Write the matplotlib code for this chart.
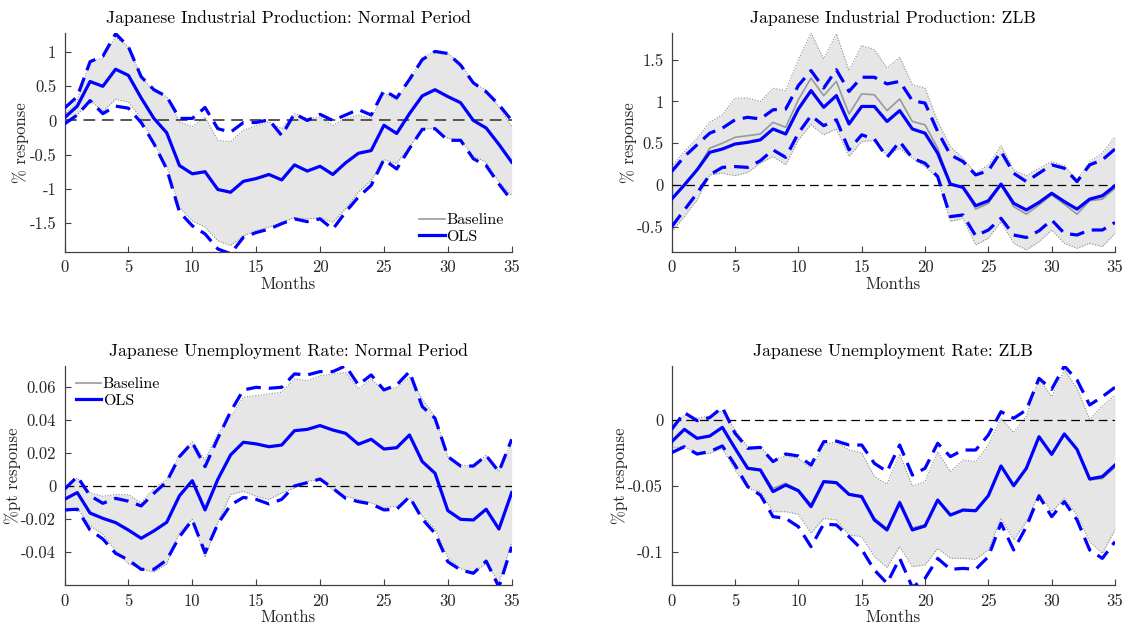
import matplotlib
matplotlib.use("Agg")
import matplotlib.pyplot as plt
import numpy as np

plt.rcParams['font.family'] = ['cmr10', 'DejaVu Serif']
plt.rcParams['mathtext.fontset'] = 'cm'
plt.rcParams['axes.unicode_minus'] = False
plt.rcParams['axes.formatter.use_mathtext'] = False

months = np.arange(36)

# ---------------- Panel 1: IP Normal ----------------
ip_n_ols = [0.04, 0.21, 0.57, 0.50, 0.75, 0.66, 0.33, 0.03, -0.18, -0.66,
            -0.78, -0.75, -1.01, -1.05, -0.89, -0.85, -0.79, -0.87, -0.65, -0.74,
            -0.67, -0.79, -0.62, -0.48, -0.44, -0.07, -0.19, 0.10, 0.36, 0.45,
            0.35, 0.26, 0.00, -0.11, -0.35, -0.61]
ip_n_base = [0.04, 0.21, 0.57, 0.50, 0.75, 0.66, 0.33, 0.03, -0.18, -0.66,
             -0.78, -0.75, -1.01, -1.05, -0.89, -0.85, -0.79, -0.87, -0.65, -0.74,
             -0.67, -0.79, -0.62, -0.48, -0.44, -0.07, -0.19, 0.10, 0.36, 0.45,
             0.35, 0.26, 0.00, -0.11, -0.35, -0.61]
ip_n_ols_hi = [0.18, 0.35, 0.86, 0.94, 1.27, 1.08, 0.64, 0.45, 0.35, 0.03,
               0.03, 0.19, -0.12, -0.17, -0.03, -0.03, 0.01, -0.22, 0.10, 0.00,
               0.09, 0.00, 0.08, 0.16, 0.08, 0.44, 0.33, 0.60, 0.89, 1.01,
               0.98, 0.81, 0.55, 0.42, 0.23, 0.00]
ip_n_ols_lo = [-0.05, 0.08, 0.29, 0.10, 0.21, 0.18, -0.03, -0.34, -0.71, -1.34,
               -1.54, -1.66, -1.88, -1.95, -1.71, -1.64, -1.59, -1.51, -1.44, -1.48,
               -1.44, -1.59, -1.34, -1.12, -0.95, -0.57, -0.71, -0.41, -0.13, -0.12,
               -0.29, -0.29, -0.56, -0.66, -0.93, -1.17]
ip_n_base_hi = [0.08, 0.30, 0.86, 0.91, 1.22, 1.08, 0.64, 0.42, 0.35, -0.02,
                -0.09, 0.05, -0.29, -0.31, -0.14, -0.08, -0.02, -0.12, 0.10, 0.03,
                0.05, -0.07, 0.03, 0.08, 0.03, 0.40, 0.30, 0.59, 0.91, 1.02,
                0.98, 0.84, 0.54, 0.45, 0.20, -0.09]
ip_n_base_lo = [-0.04, 0.08, 0.30, 0.13, 0.31, 0.27, 0.03, -0.34, -0.66, -1.27,
                -1.47, -1.56, -1.76, -1.83, -1.69, -1.61, -1.56, -1.49, -1.42, -1.44,
                -1.42, -1.49, -1.29, -1.05, -0.88, -0.57, -0.63, -0.39, -0.12, -0.12,
                -0.26, -0.29, -0.52, -0.61, -0.90, -1.10]

# ---------------- Panel 2: IP ZLB ----------------
ip_z_ols = [-0.17, 0.00, 0.18, 0.39, 0.43, 0.49, 0.51, 0.54, 0.67, 0.61,
            0.91, 1.13, 0.93, 1.07, 0.73, 0.94, 0.94, 0.76, 0.89, 0.67,
            0.62, 0.38, 0.01, -0.03, -0.25, -0.19, 0.01, -0.22, -0.30, -0.21,
            -0.10, -0.20, -0.29, -0.17, -0.13, -0.01]
ip_z_base = [-0.17, 0.00, 0.18, 0.44, 0.50, 0.57, 0.59, 0.61, 0.75, 0.69,
             1.02, 1.28, 1.07, 1.24, 0.85, 1.09, 1.08, 0.89, 1.03, 0.76,
             0.72, 0.44, 0.01, -0.03, -0.29, -0.22, 0.00, -0.26, -0.35, -0.24,
             -0.12, -0.23, -0.35, -0.19, -0.17, -0.04]
ip_z_ols_hi = [0.16, 0.34, 0.48, 0.62, 0.68, 0.78, 0.81, 0.79, 0.90, 0.91,
               1.19, 1.37, 1.16, 1.38, 1.12, 1.29, 1.29, 1.21, 1.24, 1.01,
               0.98, 0.64, 0.36, 0.28, 0.12, 0.17, 0.40, 0.14, 0.04, 0.14,
               0.24, 0.20, 0.04, 0.24, 0.30, 0.43]
ip_z_ols_lo = [-0.50, -0.30, -0.10, 0.12, 0.21, 0.22, 0.21, 0.29, 0.42, 0.33,
               0.62, 0.83, 0.71, 0.78, 0.42, 0.60, 0.55, 0.33, 0.52, 0.32,
               0.26, 0.10, -0.38, -0.36, -0.61, -0.54, -0.40, -0.60, -0.63, -0.55,
               -0.42, -0.58, -0.60, -0.54, -0.54, -0.45]
ip_z_base_hi = [0.22, 0.40, 0.56, 0.75, 0.84, 1.04, 1.04, 1.00, 1.16, 1.13,
                1.50, 1.82, 1.51, 1.81, 1.37, 1.67, 1.62, 1.40, 1.53, 1.20,
                1.16, 0.76, 0.46, 0.32, 0.14, 0.24, 0.47, 0.18, 0.11, 0.20,
                0.28, 0.23, 0.06, 0.28, 0.38, 0.58]
ip_z_base_lo = [-0.56, -0.38, -0.18, 0.12, 0.14, 0.11, 0.15, 0.26, 0.34, 0.24,
                0.54, 0.72, 0.60, 0.67, 0.34, 0.52, 0.53, 0.35, 0.44, 0.32,
                0.22, 0.08, -0.44, -0.40, -0.72, -0.64, -0.44, -0.70, -0.78, -0.68,
                -0.54, -0.70, -0.76, -0.70, -0.74, -0.58]

# ---------------- Panel 3: Unemployment Normal ----------------
ur_n_ols = [-0.0079, -0.0038, -0.0162, -0.0194, -0.0220, -0.0265, -0.0315, -0.0270, -0.0218, -0.0057,
            0.0034, -0.0143, 0.0042, 0.0190, 0.0267, 0.0257, 0.0240, 0.0250, 0.0337, 0.0345,
            0.0368, 0.0341, 0.0321, 0.0255, 0.0285, 0.0226, 0.0234, 0.0311, 0.0150, 0.0079,
            -0.0147, -0.0200, -0.0204, -0.0139, -0.0259, -0.0038]
ur_n_base = [-0.0079, -0.0038, -0.0162, -0.0194, -0.0220, -0.0265, -0.0315, -0.0270, -0.0218, -0.0057,
             0.0034, -0.0143, 0.0042, 0.0190, 0.0267, 0.0257, 0.0240, 0.0250, 0.0337, 0.0345,
             0.0368, 0.0341, 0.0321, 0.0255, 0.0285, 0.0226, 0.0234, 0.0311, 0.0150, 0.0079,
             -0.0147, -0.0200, -0.0204, -0.0139, -0.0259, -0.0038]
ur_n_ols_hi = [-0.0018, 0.0059, -0.0057, -0.0103, -0.0073, -0.0090, -0.0119, -0.0042, 0.0028, 0.0180,
               0.0265, 0.0119, 0.0291, 0.0453, 0.0584, 0.0600, 0.0594, 0.0600, 0.0681, 0.0675,
               0.0695, 0.0695, 0.0730, 0.0614, 0.0675, 0.0584, 0.0614, 0.0695, 0.0483, 0.0412,
               0.0180, 0.0123, 0.0123, 0.0186, 0.0089, 0.0285]
ur_n_ols_lo = [-0.0143, -0.0139, -0.0265, -0.0319, -0.0406, -0.0446, -0.0503, -0.0503, -0.0446, -0.0305,
               -0.0204, -0.0402, -0.0228, -0.0113, -0.0067, -0.0079, -0.0107, -0.0079, 0.0002, 0.0022,
               0.0044, -0.0012, -0.0073, -0.0093, -0.0107, -0.0143, -0.0139, -0.0063, -0.0198, -0.0285,
               -0.0457, -0.0507, -0.0527, -0.0453, -0.0610, -0.0366]
ur_n_base_hi = [0.0000, 0.0050, -0.0040, -0.0060, -0.0050, -0.0050, -0.0100, -0.0010, 0.0040, 0.0190,
                0.0270, 0.0160, 0.0320, 0.0420, 0.0540, 0.0550, 0.0560, 0.0570, 0.0650, 0.0640,
                0.0670, 0.0680, 0.0690, 0.0590, 0.0650, 0.0580, 0.0600, 0.0660, 0.0530, 0.0420,
                0.0180, 0.0130, 0.0120, 0.0190, 0.0090, 0.0270]
ur_n_base_lo = [-0.0154, -0.0133, -0.0240, -0.0290, -0.0390, -0.0470, -0.0500, -0.0520, -0.0470, -0.0280,
                -0.0200, -0.0430, -0.0220, -0.0050, -0.0030, -0.0060, -0.0080, -0.0040, -0.0010, 0.0030,
                0.0040, -0.0020, -0.0060, -0.0080, -0.0100, -0.0130, -0.0120, -0.0070, -0.0180, -0.0260,
                -0.0430, -0.0500, -0.0520, -0.0470, -0.0580, -0.0340]

# ---------------- Panel 4: Unemployment ZLB ----------------
ur_z_ols = [-0.0165, -0.0071, -0.0139, -0.0122, -0.0056, -0.0215, -0.0367, -0.0380, -0.0544, -0.0494,
            -0.0537, -0.0658, -0.0468, -0.0476, -0.0565, -0.0582, -0.0759, -0.0835, -0.0628, -0.0835,
            -0.0805, -0.0608, -0.0722, -0.0684, -0.0689, -0.0575, -0.0349, -0.0499, -0.0367, -0.0127,
            -0.0261, -0.0106, -0.0223, -0.0448, -0.0430, -0.0342]
ur_z_base = [-0.0165, -0.0071, -0.0139, -0.0122, -0.0056, -0.0215, -0.0360, -0.0375, -0.0520, -0.0480,
             -0.0530, -0.0640, -0.0465, -0.0470, -0.0560, -0.0575, -0.0745, -0.0825, -0.0615, -0.0820,
             -0.0795, -0.0605, -0.0720, -0.0680, -0.0685, -0.0572, -0.0349, -0.0499, -0.0367, -0.0127,
             -0.0261, -0.0106, -0.0225, -0.0455, -0.0445, -0.0360]
ur_z_ols_hi = [-0.0071, 0.0056, -0.0005, 0.0018, 0.0096, -0.0101, -0.0215, -0.0208, -0.0316, -0.0258,
               -0.0273, -0.0342, -0.0165, -0.0160, -0.0190, -0.0190, -0.0329, -0.0392, -0.0190, -0.0418,
               -0.0367, -0.0177, -0.0278, -0.0228, -0.0228, -0.0114, 0.0063, 0.0013, 0.0076, 0.0316,
               0.0233, 0.0410, 0.0304, 0.0114, 0.0177, 0.0248]
ur_z_ols_lo = [-0.0248, -0.0203, -0.0258, -0.0240, -0.0197, -0.0342, -0.0506, -0.0570, -0.0734, -0.0747,
               -0.0810, -0.0962, -0.0790, -0.0797, -0.0886, -0.0982, -0.1139, -0.1240, -0.1051, -0.1270,
               -0.1203, -0.1051, -0.1134, -0.1127, -0.1134, -0.1038, -0.0785, -0.0987, -0.0810, -0.0577,
               -0.0734, -0.0620, -0.0759, -0.0987, -0.1051, -0.0924]
ur_z_base_hi = [-0.0038, 0.0038, 0.0013, 0.0030, 0.0071, -0.0076, -0.0203, -0.0203, -0.0304, -0.0273,
                -0.0291, -0.0367, -0.0190, -0.0165, -0.0228, -0.0248, -0.0430, -0.0486, -0.0258, -0.0501,
                -0.0468, -0.0240, -0.0392, -0.0304, -0.0316, -0.0190, 0.0013, -0.0096, 0.0030, 0.0316,
                0.0177, 0.0380, 0.0240, 0.0005, 0.0106, 0.0190]
ur_z_base_lo = [-0.0215, -0.0197, -0.0266, -0.0253, -0.0215, -0.0380, -0.0519, -0.0544, -0.0696, -0.0696,
                -0.0716, -0.0860, -0.0747, -0.0759, -0.0873, -0.0886, -0.1038, -0.1119, -0.0962, -0.1114,
                -0.1101, -0.0975, -0.1051, -0.1051, -0.1058, -0.0987, -0.0747, -0.0911, -0.0772, -0.0557,
                -0.0696, -0.0595, -0.0722, -0.0924, -0.1013, -0.0835]

titles = ["Japanese Industrial Production: Normal Period",
          "Japanese Industrial Production: ZLB",
          "Japanese Unemployment Rate: Normal Period",
          "Japanese Unemployment Rate: ZLB"]
ylabels = ["% response", "% response", "%pt response", "%pt response"]
yticks_list = [[-1.5, -1, -0.5, 0, 0.5, 1],
               [-0.5, 0, 0.5, 1, 1.5],
               [-0.04, -0.02, 0, 0.02, 0.04, 0.06],
               [-0.1, -0.05, 0]]
ylims = [(-1.92, 1.28), (-0.80, 1.82), (-0.0598, 0.0729), (-0.1253, 0.041)]
xticks = [0, 5, 10, 15, 20, 25, 30, 35]

panels = [
    (ip_n_base, ip_n_ols, ip_n_base_lo, ip_n_base_hi, ip_n_ols_lo, ip_n_ols_hi),
    (ip_z_base, ip_z_ols, ip_z_base_lo, ip_z_base_hi, ip_z_ols_lo, ip_z_ols_hi),
    (ur_n_base, ur_n_ols, ur_n_base_lo, ur_n_base_hi, ur_n_ols_lo, ur_n_ols_hi),
    (ur_z_base, ur_z_ols, ur_z_base_lo, ur_z_base_hi, ur_z_ols_lo, ur_z_ols_hi),
]

W, H = 1127, 625
fig = plt.figure(figsize=(W / 100, H / 100), dpi=100)
fig.patch.set_facecolor('white')

# axes boxes in pixels: (left, top, right, bottom)
boxes = [(64.5, 33, 511.7, 251.7), (671.7, 33, 1115, 251.7),
         (64.5, 366, 511.7, 585), (671.7, 366, 1115, 585)]

axc = '#404040'
for i, (box, data) in enumerate(zip(boxes, panels)):
    l, t, r, b = box
    ax = fig.add_axes([l / W, 1 - b / H, (r - l) / W, (b - t) / H])
    base, ols, blo, bhi, olo, ohi = [np.asarray(d) for d in data]
    ax.fill_between(months, blo, bhi, color='#e6e6e6', lw=0, zorder=1)
    ax.plot(months, bhi, color='#8c8c8c', lw=0.8, ls=(0, (1, 1.5)), zorder=2)
    ax.plot(months, blo, color='#8c8c8c', lw=0.8, ls=(0, (1, 1.5)), zorder=2)
    if i == 0:
        ax.axhline(0, color='#555555', lw=1.4, ls=(0, (6, 3.5)), zorder=3)
    else:
        ax.axhline(0, color='black', lw=0.9, ls=(0, (7, 4)), zorder=3)
    lb, = ax.plot(months, base, color='#999999', lw=1.2, zorder=4, label='Baseline')
    lo, = ax.plot(months, ols, color='#0000ff', lw=2.3, zorder=5, label='OLS')
    ax.plot(months, ohi, color='#0000ff', lw=2.3, ls=(0, (4.6, 2.5)), zorder=5)
    ax.plot(months, olo, color='#0000ff', lw=2.3, ls=(0, (4.6, 2.5)), zorder=5)

    ax.set_xlim(0, 35)
    ax.set_ylim(*ylims[i])
    ax.set_xticks(xticks)
    ax.set_xticklabels([str(x) for x in xticks])
    yt = yticks_list[i]
    ax.set_yticks(yt)
    ax.set_yticklabels(['%g' % v for v in yt])
    for s in ['top', 'right']:
        ax.spines[s].set_visible(False)
    for s in ['left', 'bottom']:
        ax.spines[s].set_color(axc)
        ax.spines[s].set_linewidth(0.9)
    ax.tick_params(direction='in', length=4, width=0.8, color=axc,
                   labelsize=12, labelcolor='#262626', pad=6)
    ax.set_xlabel('Months', fontsize=12, color='#262626', labelpad=1)
    ax.set_ylabel(ylabels[i], fontsize=12, color='#262626', labelpad=0)
    ax.set_title(titles[i], fontsize=12.7, color='black', pad=7)
    ax.set_facecolor('none')

    if i == 0:
        ax.legend(handles=[lb, lo], loc='lower right', frameon=False, fontsize=11.5,
                  handlelength=1.6, handletextpad=0.1, borderaxespad=0.1,
                  labelspacing=0.15)
    elif i == 2:
        ax.legend(handles=[lb, lo], loc='upper left', frameon=False, fontsize=11.5,
                  handlelength=1.6, handletextpad=0.1, borderaxespad=0.3,
                  labelspacing=0.15)

fig.savefig('out.png', dpi=100)
